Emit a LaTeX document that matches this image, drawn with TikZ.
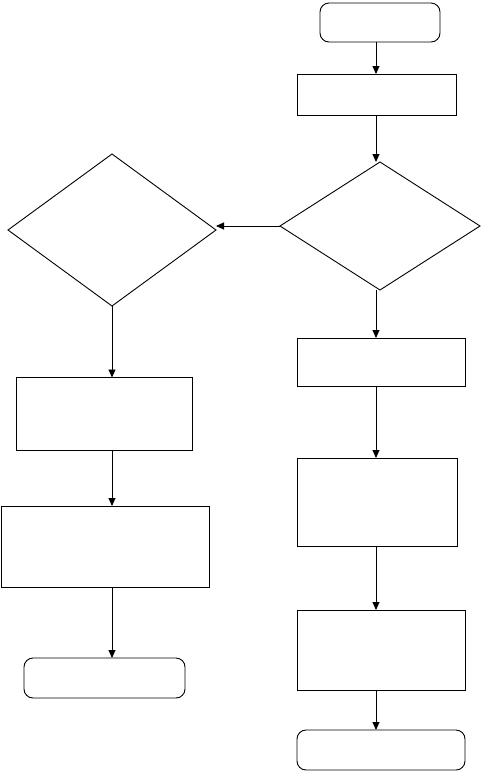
\documentclass[tikz,border=0pt]{standalone}
\usetikzlibrary{shapes.geometric,arrows.meta}
\begin{document}
\begin{tikzpicture}[x=1pt,y=-1pt,
  every node/.style={draw=black,line width=0.9pt,inner sep=0pt,outer sep=0pt},
  proc/.style={rectangle},
  term/.style={rectangle,rounded corners=9pt},
  dec/.style={diamond,inner sep=0pt},
  arr/.style={line width=0.9pt,-{Triangle[width=7pt,length=8pt]}}]
\useasboundingbox (0,0) rectangle (482,772);
% right column
\node[term,minimum width=120pt,minimum height=39pt] (T1) at (380,22.5) {};
\node[proc,minimum width=159pt,minimum height=41pt] (B1) at (376.5,94.5) {};
\node[dec,minimum width=200pt,minimum height=128pt] (dR) at (380,226) {};
\node[proc,minimum width=168pt,minimum height=48pt] (R1) at (381,362) {};
\node[proc,minimum width=160pt,minimum height=88pt] (R2) at (377,502) {};
\node[proc,minimum width=168pt,minimum height=80pt] (R3) at (381,650) {};
\node[term,minimum width=168pt,minimum height=40pt] (T2) at (381,750) {};
% left column
\node[dec,minimum width=208pt,minimum height=152pt] (dL) at (112,230) {};
\node[proc,minimum width=176pt,minimum height=73pt] (L1) at (104,414) {};
\node[proc,minimum width=208pt,minimum height=81pt] (L2) at (105,546.5) {};
\node[term,minimum width=161pt,minimum height=40pt] (T3) at (104.5,678) {};
\coordinate (cR) at (376,0);
\coordinate (cL) at (112,0);
% connectors
\draw[arr] (T1.south -| cR) -- (B1.north -| cR);
\draw[arr] (B1.south -| cR) -- (dR.north -| cR);
\draw[arr] (dR.south -| cR) -- (R1.north -| cR);
\draw[arr] (R1.south -| cR) -- (R2.north -| cR);
\draw[arr] (R2.south -| cR) -- (R3.north -| cR);
\draw[arr] (R3.south -| cR) -- (T2.north -| cR);
\draw[arr] (dR.west) -- (dR.west -| dL.east);
\draw[arr] (dL.south) -- (L1.north -| cL);
\draw[arr] (L1.south -| cL) -- (L2.north -| cL);
\draw[arr] (L2.south -| cL) -- (T3.north -| cL);
\end{tikzpicture}
\end{document}
